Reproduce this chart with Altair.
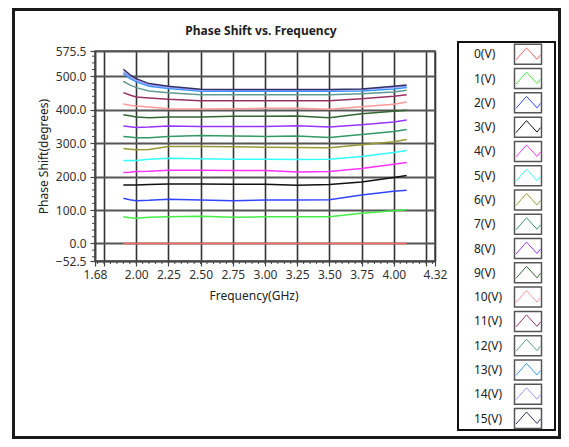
import altair as alt
import pandas as pd

# ---------------- data ----------------
freqs = [1.9, 1.95, 2.0, 2.1, 2.25, 2.5, 2.75, 3.0, 3.25, 3.5, 3.75, 4.0, 4.1]
series_labels = ["0(V)", "1(V)", "2(V)", "3(V)", "4(V)", "5(V)", "6(V)", "7(V)",
                 "8(V)", "9(V)", "10(V)", "11(V)", "12(V)", "13(V)", "14(V)", "15(V)"]

s0 = [0, 0, 0, 0, 0, 0, 0, 0, 0, 0, 0, 0, 0]
s1 = [80, 77, 75, 78, 80, 81, 78, 80, 80, 80, 90, 98, 101]
s2 = [135, 131, 128, 129, 132, 130, 128, 130, 130, 131, 145, 156, 159]
s3 = [175, 175, 175, 176, 178, 178, 177, 177, 174, 176, 184, 197, 203]
s4 = [212, 213, 215, 216, 219, 219, 218, 218, 214, 215, 224, 237, 242]
s5 = [248, 248, 248, 252, 255, 253, 252, 252, 251, 252, 260, 272, 278]
s6 = [284, 282, 280, 281, 290, 290, 289, 288, 287, 286, 295, 304, 311]
s7 = [320, 318, 316, 316, 320, 323, 321, 320, 321, 317, 326, 335, 341]
s8 = [351, 349, 347, 348, 351, 350, 350, 350, 352, 348, 355, 363, 369]
s9 = [385, 382, 378, 376, 378, 378, 380, 380, 381, 376, 388, 395, 398]
s10 = [417, 413, 411, 408, 403, 402, 403, 404, 404, 401, 409, 416, 423]
s11 = [451, 444, 438, 435, 431, 427, 427, 427, 427, 427, 433, 440, 445]
s12 = [485, 474, 466, 456, 451, 445, 445, 445, 445, 445, 448, 453, 458]
s13 = [508, 494, 483, 470, 463, 455, 455, 455, 455, 455, 456, 462, 466]
s14 = [514, 499, 488, 474, 467, 458, 458, 458, 458, 458, 460, 467, 471]
s15 = [521, 505, 493, 478, 470, 461, 460, 460, 460, 460, 462, 470, 474]
series_values = [s0, s1, s2, s3, s4, s5, s6, s7, s8, s9, s10, s11, s12, s13, s14, s15]

colors = ["#FF6666", "#44EE44", "#3344FF", "#111111", "#FF33FF", "#33FFFF",
          "#999933", "#339966", "#9933FF", "#336633", "#FF9999", "#993366",
          "#5F9A94", "#3399FF", "#9999FF", "#333366"]

title_text = ["Phase Shift vs. Frequency"]
x_axis_values = [1.68, 1.75, 2.0, 2.25, 2.5, 2.75, 3.0, 3.25, 3.5, 3.75, 4.0, 4.25, 4.32]
x_minor_values = [round(1.70 + 0.05 * i, 2) for i in range(53)]
y_axis_values = [-52.5, 0, 100, 200, 300, 400, 500, 575.5]
y_minor_values = [v for v in range(-40, 575, 20) if v % 100 != 0]

# ---------------- tables ----------------
rows = []
for i, vals in enumerate(series_values):
    for f, v in zip(freqs, vals):
        rows.append({"freq": f, "phase": v, "series": series_labels[i], "order": i})
df = pd.DataFrame(rows)
legend_df = pd.DataFrame({"series": series_labels})
title_df = pd.DataFrame({"t": title_text})

FONT = "Noto Sans"
W, H = 340, 210
xscale = alt.Scale(domain=[1.68, 4.32], nice=False, zero=False)
yscale = alt.Scale(domain=[-52.5, 575.5], nice=False, zero=False)
cscale = alt.Scale(domain=series_labels, range=colors)

x_axis = alt.Axis(values=x_axis_values,
                  labelExpr="(datum.value == 1.75 || datum.value == 4.25) ? '' : format(datum.value, '.2f')",
                  grid=True, gridColor="#333333", gridWidth=1.6,
                  labelFlush=False, labelOverlap=False,
                  tickSize=5, tickColor="#444444", tickWidth=1.2,
                  domainColor="#444444", domainWidth=1.5,
                  labelFont=FONT, labelFontSize=12, labelColor="#333333",
                  labelPadding=3,
                  title="Frequency(GHz)", titleFont=FONT, titleFontSize=12,
                  titleFontWeight="normal", titleColor="#222222",
                  titleX=158.5, titleY=34, titleAlign="center",
                  titleBaseline="middle")
y_axis = alt.Axis(values=y_axis_values, format=".1f",
                  grid=True, gridColor="#555555", gridWidth=1.8,
                  labelFlush=False, labelOverlap=False,
                  tickSize=5, tickColor="#444444", tickWidth=1.2,
                  domainColor="#444444", domainWidth=1.5,
                  labelFont=FONT, labelFontSize=12, labelColor="#333333",
                  labelPadding=4,
                  title="Phase Shift(degrees)", titleFont=FONT, titleFontSize=12,
                  titleFontWeight="normal", titleColor="#222222",
                  titleX=-52, titleY=105, titleAngle=-90,
                  titleAlign="center", titleBaseline="middle")

lines = alt.Chart(df).mark_line(strokeWidth=1.5).encode(
    x=alt.X("freq:Q", scale=xscale, axis=x_axis),
    y=alt.Y("phase:Q", scale=yscale, axis=y_axis),
    color=alt.Color("series:N", scale=cscale, legend=None),
    detail="order:O",
    order=alt.Order("order:Q"),
)

minor_x = alt.Chart(pd.DataFrame({"freq": x_minor_values})).mark_rule(
    color="#444444", strokeWidth=1).encode(
    x=alt.X("freq:Q", scale=xscale, axis=x_axis), y=alt.value(H), y2=alt.value(H + 3))
minor_y = alt.Chart(pd.DataFrame({"phase": y_minor_values})).mark_rule(
    color="#444444", strokeWidth=1).encode(
    y=alt.Y("phase:Q", scale=yscale, axis=y_axis), x=alt.value(-3), x2=alt.value(0))

main = alt.layer(lines, minor_x, minor_y)

# ---------------- legend panel ----------------
ly = alt.Y("series:N", scale=alt.Scale(type="point", domain=series_labels,
                                       range=[3.3, 367.5], padding=0), axis=None)

legend_box = alt.Chart(legend_df).mark_rect(
    fill="white", stroke="#111111", strokeWidth=2).encode(
    x=alt.value(363), x2=alt.value(460), y=alt.value(-9), y2=alt.value(379))

legend_text = alt.Chart(legend_df).mark_text(
    align="left", baseline="middle", font=FONT, fontSize=12, color="#222222").encode(
    x=alt.value(379), y=ly, text="series:N")

swatch_box = alt.Chart(legend_df).mark_point(
    shape="M-1.35,-1L1.35,-1L1.35,1L-1.35,1Z", size=400, filled=False,
    color="#555555", strokeWidth=1.5, opacity=1).encode(x=alt.value(433), y=ly)

swatch_line = alt.Chart(legend_df).mark_point(
    shape="M-1.2,0.55L-0.15,-0.65L0.9,0.5L1.25,0.05", size=400, filled=False,
    strokeWidth=1, opacity=1).encode(
    x=alt.value(433), y=ly,
    color=alt.Color("series:N", scale=cscale, legend=None))

legend = alt.layer(legend_box, swatch_box, swatch_line, legend_text)

# ---------------- decorations ----------------
frame = alt.Chart(title_df).mark_rect(
    filled=False, stroke="#1a1a1a", strokeWidth=3).encode(
    x=alt.value(-81.5), x2=alt.value(464.5), y=alt.value(-41.5), y2=alt.value(386.5))

title = alt.Chart(title_df).mark_text(
    font=FONT, fontSize=12, fontWeight="bold", color="#222222",
    align="center", baseline="middle").encode(
    x=alt.value(166), y=alt.value(-20), text="t:N")

chart = alt.layer(frame, title, main, legend).resolve_scale(y="independent").properties(
    width=W, height=H,
    autosize=alt.AutoSizeParams(type="none"),
    padding={"left": 87, "top": 43, "right": 126, "bottom": 178},
    background="white",
).configure_view(stroke="#555555", strokeWidth=1.5)

chart.save("out.html", embed_options={"renderer": "svg", "actions": False})
